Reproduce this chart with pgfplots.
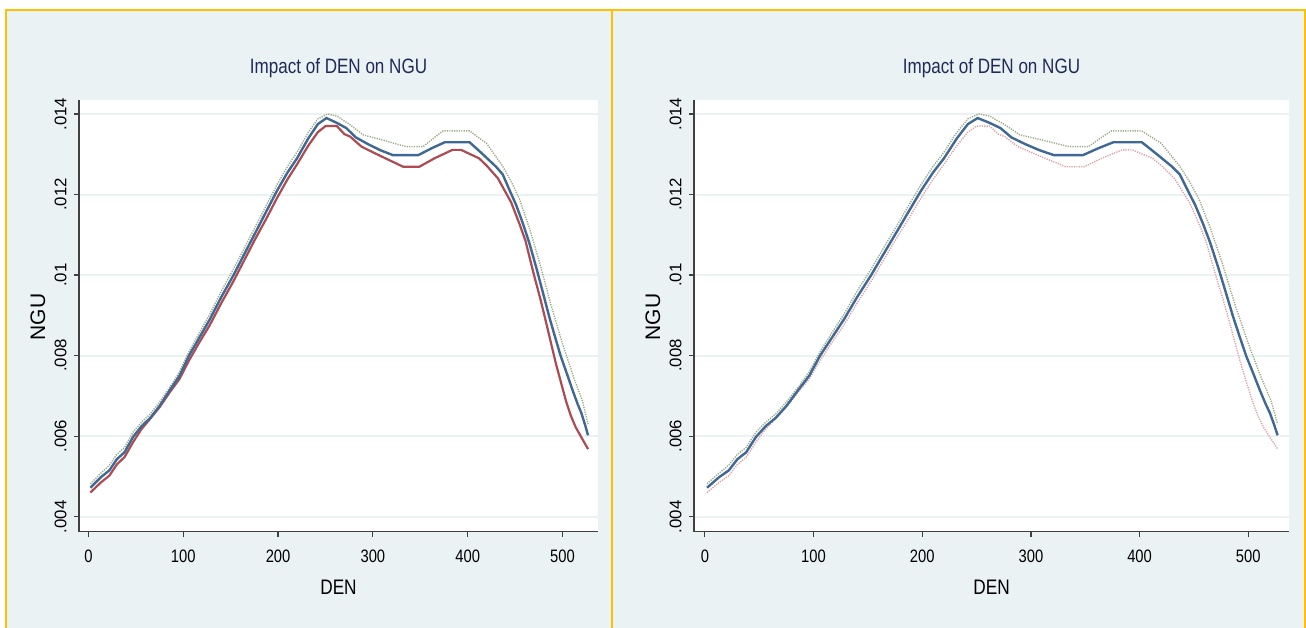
\documentclass[border=0pt]{standalone}
\usepackage{fontspec}
\setmainfont{Liberation Sans}
\newfontfamily\condf[FakeStretch=0.82]{Liberation Sans}
\usepackage{pgfplots}
\usepackage{pgfplotstable}
\pgfplotsset{compat=1.18}

\definecolor{stbg}{HTML}{EAF2F3}
\definecolor{stborder}{HTML}{FFC000}
\definecolor{stnavy}{HTML}{3F6994}
\definecolor{stmaroon}{HTML}{AD4B53}
\definecolor{stgreen}{HTML}{9AAA86}
\definecolor{stpink}{HTML}{DDA0A6}
\definecolor{sttitle}{HTML}{1E2B58}

% fitted line
\pgfplotstableread{
den ngu
2 0.00472
13 0.00498
22 0.00515
30 0.00543
38 0.00560
47 0.00598
56 0.00625
65 0.00645
75 0.00675
86 0.00715
96 0.00750
106 0.00800
117 0.00845
128 0.00890
140 0.00945
153 0.01000
165 0.01055
176 0.01105
188 0.01160
199 0.01210
210 0.01255
220 0.01290
232 0.01340
242 0.01375
251 0.01390
262 0.01378
272 0.01365
282 0.01342
295 0.01325
308 0.01310
321 0.01298
335 0.01298
348 0.01298
362 0.01315
376 0.01330
389 0.01330
402 0.01330
416 0.01300
430 0.01269
437 0.01250
444 0.01212
451 0.01175
458 0.01130
465 0.01080
472 0.01022
479 0.00960
486 0.00897
492 0.00848
498 0.00800
505 0.00753
511 0.00712
516 0.00680
520 0.00657
524 0.00627
527 0.00602
}\fitline

% lower band
\pgfplotstableread{
den ngu
2 0.00460
13 0.00485
22 0.00502
30 0.00530
38 0.00548
47 0.00585
56 0.00618
65 0.00643
75 0.00672
86 0.00710
96 0.00742
106 0.00788
117 0.00833
128 0.00876
140 0.00930
153 0.00985
165 0.01040
176 0.01090
188 0.01142
199 0.01192
210 0.01238
220 0.01275
232 0.01322
242 0.01355
250 0.01370
262 0.01370
270 0.01350
276 0.01344
288 0.01319
300 0.01305
315 0.01288
332 0.01269
349 0.01269
365 0.01290
384 0.01311
393 0.01311
412 0.01290
420 0.01272
432 0.01240
446 0.01180
455 0.01125
461 0.01085
470 0.01000
477 0.00938
483 0.00880
493 0.00781
504 0.00685
509 0.00650
514 0.00622
520 0.00597
527 0.00568
}\lowline

% upper band
\pgfplotstableread{
den ngu
2 0.00482
13 0.00508
22 0.00528
30 0.00555
38 0.00572
47 0.00610
56 0.00635
65 0.00655
75 0.00685
86 0.00722
96 0.00760
106 0.00810
117 0.00857
128 0.00903
140 0.00960
153 0.01015
165 0.01070
176 0.01120
188 0.01175
199 0.01225
210 0.01270
220 0.01305
232 0.01355
242 0.01388
252 0.01400
262 0.01395
275 0.01375
290 0.01348
311 0.01335
335 0.01319
353 0.01319
364 0.01340
374 0.01358
402 0.01358
420 0.01327
437 0.01270
446 0.01232
455 0.01187
466 0.01110
476 0.01030
488 0.00925
500 0.00830
512 0.00745
521 0.00688
527 0.00630
}\highline

\pgfplotsset{
  statapanel/.style={
    scale only axis, height=215.85pt,
    xmin=-10, xmax=537.5, ymin=0.003628, ymax=0.014348,
    axis x line*=bottom, axis y line*=left,
    axis line style={-, black!75, line width=0.6pt},
    axis background/.style={fill=white},
    xtick={0,100,200,300,400,500},
    ytick={0.004,0.006,0.008,0.01,0.012,0.014},
    yticklabels={.004,.006,.008,.01,.012,.014},
    scaled ticks=false,
    tick align=outside, major tick length=2.5pt,
    tick style={black!75, line width=0.6pt},
    ymajorgrids, grid style={stbg, line width=1pt},
    /pgf/number format/assume math mode=true,
    xticklabel style={font=\condf\fontsize{9}{10}\selectfont, anchor=north, inner sep=0pt, yshift=-6.5pt},
    % shifts act in the rotated frame: yshift moves the label away from the axis
    yticklabel style={font=\fontsize{8.4}{9}\selectfont, rotate=90, anchor=south, inner sep=0pt, yshift=3.5pt},
  }
}

\begin{document}
\begin{tikzpicture}[x=0.5pt,y=0.5pt]
\useasboundingbox (0,0) rectangle (1306,627);
\fill[white] (0,0) rectangle (1306,627);
\begin{scope}
  \clip (0,0) rectangle (1306,627);
  \fill[stbg] (6,-20) rectangle (612,617);
  \fill[stbg] (612,-20) rectangle (1305,617);
  \draw[stborder, line width=1.2pt] (6,-20) rectangle (612,617);
  \draw[stborder, line width=1.2pt] (612,-20) rectangle (1305,617);
\end{scope}

% left panel
\begin{axis}[statapanel, at={(39.5pt,47.65pt)}, anchor=south west, width=259.5pt]
\addplot[stgreen, line width=0.7pt, dash pattern=on 0.6pt off 0.6pt] table[x=den, y=ngu] {\highline};
\addplot[stmaroon, line width=1.1pt] table[x=den, y=ngu] {\lowline};
\addplot[stnavy, line width=1.2pt] table[x=den, y=ngu] {\fitline};
\end{axis}

% right panel
\begin{axis}[statapanel, at={(347pt,47.65pt)}, anchor=south west, width=297.5pt]
\addplot[stgreen, line width=0.7pt, dash pattern=on 0.6pt off 0.6pt] table[x=den, y=ngu] {\highline};
\addplot[stpink, line width=0.7pt, dash pattern=on 0.6pt off 0.6pt] table[x=den, y=ngu] {\lowline};
\addplot[stnavy, line width=1.2pt] table[x=den, y=ngu] {\fitline};
\end{axis}

% titles and axis names
\node[font=\condf\fontsize{10.4}{12}\selectfont, text=sttitle, anchor=base] at (338.5,553) {Impact of DEN on NGU};
\node[font=\condf\fontsize{10.4}{12}\selectfont, text=sttitle, anchor=base] at (991.5,553) {Impact of DEN on NGU};
\node[font=\condf\fontsize{10.5}{12}\selectfont, anchor=base] at (338.5,32.7) {DEN};
\node[font=\condf\fontsize{10.5}{12}\selectfont, anchor=base] at (991.5,32.7) {DEN};
\node[font=\fontsize{10.5}{12}\selectfont, rotate=90, inner sep=0pt] at (38,310) {NGU};
\node[font=\fontsize{10.5}{12}\selectfont, rotate=90, inner sep=0pt] at (653,310) {NGU};
\end{tikzpicture}
\end{document}
